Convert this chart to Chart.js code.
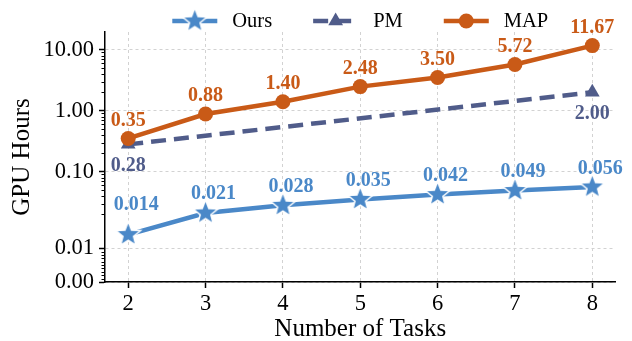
<!DOCTYPE html>
<html>
<head>
<meta charset="utf-8">
<script src="https://cdn.jsdelivr.net/npm/chart.js@4.4.0/dist/chart.umd.min.js"></script>
<style>
  html,body{margin:0;padding:0;background:#fff}
  #wrap{width:632px;height:341px}
</style>
</head>
<body>
<div id="wrap"><canvas id="chart" width="632" height="341"></canvas></div>
<script>
// data
const tasks = [2, 3, 4, 5, 6, 7, 8];
const oursHours = [0.014, 0.021, 0.028, 0.035, 0.042, 0.049, 0.056];
const pmHours = [0.28, null, null, null, null, null, 2.00];
const mapHours = [0.35, 0.88, 1.40, 2.48, 3.50, 5.72, 11.67];
const yTicks = [0, 0.01, 0.1, 1, 10];
const seriesNames = ['Ours', 'PM', 'MAP'];

const colors = { ours:'#4A88C8', pm:'#505C8A', map:'#C95A17', grid:'#d2d2d2' };
const SERIF = "'Liberation Serif', 'DejaVu Serif', serif";

// symlog transform (linthresh 0.02, linscale 1, base 10) like matplotlib
const LINTHRESH = 0.02;
const LINSCALE = 1 / (1 - 1 / 10);
function symT(v){ return v <= LINTHRESH ? v / LINTHRESH * LINSCALE : LINSCALE + Math.log10(v / LINTHRESH); }
function symInv(u){ return u <= LINSCALE ? u / LINSCALE * LINTHRESH : LINTHRESH * Math.pow(10, u - LINSCALE); }

class SymlogScale extends Chart.LinearScale {
  determineDataLimits(){ this.min = this.options.min; this.max = this.options.max; }
  buildTicks(){ return yTicks.map(v => ({value:v})); }
  configure(){
    super.configure();
    this._s0 = symT(this.min);
    this._sr = symT(this.max) - this._s0;
  }
  getPixelForValue(v){ return this.getPixelForDecimal((symT(v) - this._s0) / this._sr); }
  getValueForPixel(p){ return symInv(this._s0 + this.getDecimalForPixel(p) * this._sr); }
}
SymlogScale.id = 'symlog';
Chart.register(SymlogScale);

// minor tick values for the y axis
const yMinor = [];
[0.001, 0.01, 0.1, 1].forEach(d => { for(let k=2;k<=9;k++) yMinor.push(k*d); });
yMinor.push(0.001);

function makeStar(color, rOut, rIn, edge){
  const s = Math.ceil(2*(rOut+edge)) + 2;
  const c = document.createElement('canvas'); c.width = c.height = s;
  const g = c.getContext('2d'); const cx = s/2, cy = s/2;
  g.beginPath();
  for(let i=0;i<10;i++){
    const r = i%2 ? rIn : rOut; const a = -Math.PI/2 + i*Math.PI/5;
    g.lineTo(cx + r*Math.cos(a), cy + r*Math.sin(a));
  }
  g.closePath();
  g.fillStyle = color; g.fill();
  g.lineWidth = edge; g.strokeStyle = '#fff'; g.stroke();
  return c;
}
const starImg = makeStar(colors.ours, 13, 5.6, 1.5);

const toPts = arr => tasks.map((t,i) => ({x:t, y:arr[i]}));

// value labels: placed at value*factor on the y scale, like annotate in data coords
const labelCfg = [
  {factor:2.1, dx:8},    // Ours
  {factor:1/2.2, dx:0},  // PM
  {factor:2.05, dx:0}    // MAP
];

const valueLabels = {
  id:'valueLabels',
  afterDatasetsDraw(chart){
    const ctx = chart.ctx; const ys = chart.scales.y;
    ctx.save();
    ctx.font = 'bold 20px ' + SERIF;
    ctx.textAlign = 'center'; ctx.textBaseline = 'middle';
    chart.data.datasets.forEach((ds, di) => {
      const meta = chart.getDatasetMeta(di); const cfg = labelCfg[di];
      ctx.fillStyle = ds.borderColor;
      ds.data.forEach((p, i) => {
        if(p.y === null) return;
        const el = meta.data[i];
        const txt = p.y < 0.1 ? p.y.toFixed(3) : p.y.toFixed(2);
        ctx.fillText(txt, el.x + cfg.dx, ys.getPixelForValue(p.y * cfg.factor) + 1);
      });
    });
    ctx.restore();
  }
};

const minorTicks = {
  id:'minorTicks',
  afterDraw(chart){
    const ctx = chart.ctx; const ys = chart.scales.y; const x0 = chart.chartArea.left;
    ctx.save();
    ctx.strokeStyle = '#000'; ctx.lineWidth = 1;
    yMinor.forEach(v => {
      const y = Math.round(ys.getPixelForValue(v)) + 0.5;
      ctx.beginPath(); ctx.moveTo(x0 - 3.5, y); ctx.lineTo(x0, y); ctx.stroke();
    });
    ctx.restore();
  }
};

const lineLegend = {
  id:'lineLegend',
  afterDraw(chart){
    const ctx = chart.ctx; const area = chart.chartArea;
    const handle = 45, gapText = 15, gapItem = 41, y = 21;
    ctx.save();
    ctx.font = '20.5px ' + SERIF;
    const items = chart.data.datasets.map(ds => ({ds, w:ctx.measureText(ds.label).width}));
    const total = items.reduce((s,it) => s + handle + gapText + it.w, 0) + gapItem*(items.length-1);
    let x = (area.left + area.right)/2 - total/2;
    items.forEach(({ds, w}) => {
      ctx.strokeStyle = ds.borderColor; ctx.lineWidth = ds.borderWidth;
      ctx.setLineDash(ds.borderDash || []);
      ctx.beginPath(); ctx.moveTo(x, y); ctx.lineTo(x + handle, y); ctx.stroke();
      ctx.setLineDash([]);
      ctx.fillStyle = ds.pointBackgroundColor;
      Chart.helpers.drawPoint(ctx, {pointStyle:ds.pointStyle, radius:ds.pointRadius, borderWidth:0, rotation:0}, x + handle/2, y);
      ctx.fillStyle = '#000'; ctx.textAlign = 'left'; ctx.textBaseline = 'middle';
      ctx.fillText(ds.label, x + handle + gapText, y + 1);
      x += handle + gapText + w + gapItem;
    });
    ctx.restore();
  }
};

new Chart(document.getElementById('chart'), {
  type:'line',
  data:{
    datasets:[
      { label:seriesNames[0], data:toPts(oursHours), borderColor:colors.ours, backgroundColor:colors.ours,
        borderWidth:4.5, pointStyle:starImg, pointRadius:12, pointBackgroundColor:colors.ours, order:2 },
      { label:seriesNames[1], data:toPts(pmHours), borderColor:colors.pm, backgroundColor:colors.pm,
        borderWidth:4.5, borderDash:[15,8], spanGaps:true, pointStyle:'triangle', pointRadius:8.5,
        pointBackgroundColor:colors.pm, pointBorderWidth:0, order:1 },
      { label:seriesNames[2], data:toPts(mapHours), borderColor:colors.map, backgroundColor:colors.map,
        borderWidth:4.5, pointStyle:'circle', pointRadius:7.5, pointBackgroundColor:colors.map, pointBorderWidth:0, order:0 }
    ]
  },
  options:{
    responsive:false, animation:false,
    layout:{padding:{top:32, right:9, left:0, bottom:0}},
    elements:{line:{tension:0}},
    plugins:{legend:{display:false}, tooltip:{enabled:false}},
    scales:{
      x:{
        type:'linear', min:1.7, max:8.3,
        afterBuildTicks: s => { s.ticks = tasks.map(v => ({value:v})); },
        afterFit: s => { s.height = 59; },
        grid:{color:colors.grid, lineWidth:1, tickColor:'#000', tickLength:6, tickWidth:1.5},
        border:{color:'#000', width:1.5, dash:[3,3]},
        ticks:{font:{family:SERIF, size:22.5}, color:'#000', padding:3, callback:v => String(v)},
        title:{display:true, text:'Number of Tasks', font:{family:SERIF, size:25, lineHeight:0.9}, color:'#000', padding:{top:0, bottom:0}}
      },
      y:{
        type:'symlog', min:0, max:19.5,
        afterFit: s => { s.width = 105; },
        grid:{color:colors.grid, lineWidth:1, tickColor:'#000', tickLength:6, tickWidth:1.5},
        border:{color:'#000', width:1.5, dash:[3,3]},
        ticks:{font:{family:SERIF, size:22.5}, color:'#000', padding:5, callback:v => v.toFixed(2)},
        title:{display:true, text:'GPU Hours', font:{family:SERIF, size:25}, color:'#000', padding:{top:7, bottom:0}}
      }
    }
  },
  plugins:[minorTicks, valueLabels, lineLegend]
});
</script>
</body>
</html>
